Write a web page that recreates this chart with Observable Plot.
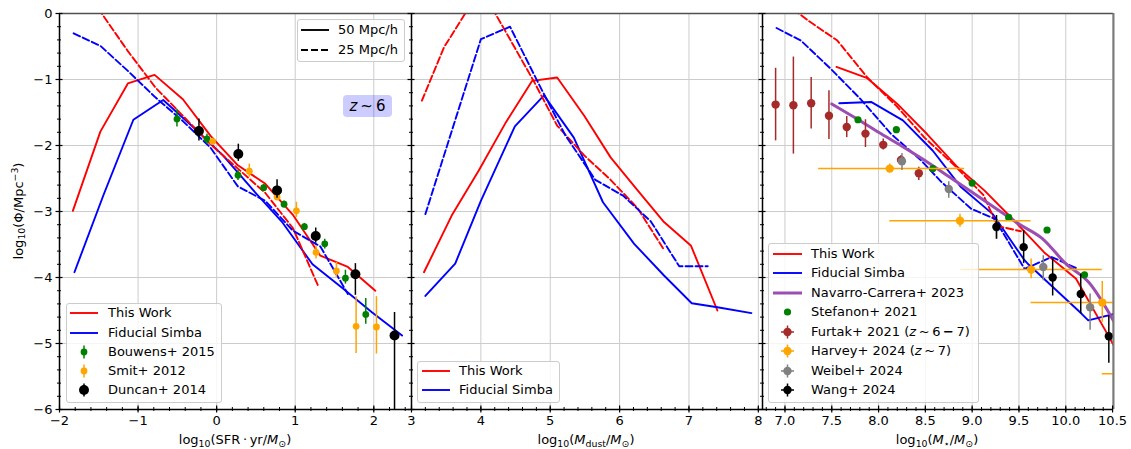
<!DOCTYPE html>
<html><head><meta charset="utf-8">
<script src="https://cdn.jsdelivr.net/npm/d3@7"></script>
<script src="https://cdn.jsdelivr.net/npm/@observablehq/plot@0.6"></script>
<style>
body{margin:0;background:#fff;font-family:"DejaVu Sans",sans-serif;color:#000;}
#wrap{position:relative;width:1131px;height:449px;overflow:hidden;background:#fff;}
.panel{position:absolute;top:0;}
.xl{position:absolute;top:431px;height:18px;line-height:18px;font-size:13px;white-space:nowrap;transform:translateX(-50%);}
.yl{position:absolute;font-size:13px;white-space:nowrap;transform:translate(-50%,-50%) rotate(-90deg);}
sub{font-size:72%;vertical-align:-0.3em;line-height:0;}
sup{font-size:72%;vertical-align:0.5em;line-height:0;}
.leg{position:absolute;background:rgba(255,255,255,0.8);border:1px solid #cccccc;border-radius:3px;box-sizing:border-box;}
.lt{position:absolute;font-size:13px;height:16px;line-height:16px;white-space:nowrap;}
.zbox{position:absolute;background:rgba(0,0,255,0.2);border-radius:4px;font-size:15px;text-align:center;}
</style>
</head><body>
<div id="wrap"></div>
<script>
// ================= DATA =================
// ---- Panel 1: SFR function ----
const sfrThisWorkX = [-1.83,-1.48,-1.13,-0.79,-0.43,-0.08,0.27,0.62,0.97,1.32,1.67,2.02];
const sfrThisWorkY = [-2.99,-1.79,-1.06,-0.93,-1.30,-1.85,-2.30,-2.58,-3.05,-3.67,-3.84,-4.20];
const sfrSimbaX = [-1.81,-1.44,-1.06,-0.68,-0.30,0.08,0.46,0.84,1.22,1.60,1.98,2.36];
const sfrSimbaY = [-3.92,-2.75,-1.61,-1.31,-1.72,-2.15,-2.67,-3.17,-3.80,-4.16,-4.53,-4.88];
const sfrThisWork25X = [-1.83,-1.48,-1.13,-0.78,-0.43,-0.08,0.27,0.62,0.97,1.30];
const sfrThisWork25Y = [0.55,0.03,-0.57,-1.12,-1.55,-1.98,-2.35,-2.72,-3.25,-4.15];
const sfrSimba25X = [-1.82,-1.48,-1.13,-0.78,-0.43,-0.08,0.27,0.62,0.97,1.32,1.67];
const sfrSimba25Y = [-0.30,-0.49,-0.87,-1.27,-1.63,-2.03,-2.62,-2.84,-3.29,-3.53,-4.25];

const bouwensX  = [-0.505,-0.123,0.272,0.599,0.858,1.117,1.376,1.639,1.898];
const bouwensY  = [-1.60,-1.90,-2.45,-2.64,-2.89,-3.23,-3.49,-4.01,-4.56];
const bouwensHi = [-1.45,-1.83,-2.38,-2.59,-2.84,-3.18,-3.42,-3.89,-4.32];
const bouwensLo = [-1.72,-1.98,-2.53,-2.69,-2.94,-3.28,-3.57,-4.10,-4.71];

const smitX  = [-0.051,0.416,0.769,1.015,1.265,1.524,1.775,2.034];
const smitY  = [-1.94,-2.39,-2.78,-2.99,-3.62,-3.90,-4.74,-4.75];
const smitHi = [-1.89,-2.28,-2.71,-2.86,-3.52,-3.77,-4.29,-4.29];
const smitLo = [-1.99,-2.48,-2.83,-3.09,-3.72,-4.00,-5.15,-5.16];

const duncanX  = [-0.225,0.276,0.769,1.261,1.766,2.264];
const duncanY  = [-1.78,-2.13,-2.68,-3.37,-3.95,-4.88];
const duncanHi = [-1.60,-1.98,-2.52,-3.25,-3.79,-4.53];
const duncanLo = [-1.93,-2.24,-2.80,-3.48,-4.27,-6.50];

// ---- Panel 2: dust mass function ----
const dustThisWorkX = [3.18,3.59,3.97,4.36,4.74,5.10,5.49,5.87,6.26,6.64,7.03,7.41];
const dustThisWorkY = [-3.92,-3.04,-2.38,-1.65,-1.02,-0.97,-1.55,-2.18,-2.68,-3.16,-3.52,-4.50];
const dustSimbaX = [3.20,3.63,4.00,4.49,4.91,5.34,5.76,6.21,6.64,7.04,7.41,7.90];
const dustSimbaY = [-4.28,-3.79,-2.84,-1.71,-1.24,-1.88,-2.86,-3.49,-3.97,-4.39,-4.45,-4.54];
const dustThisWork25X = [3.15,3.47,4.00,4.36,4.77,5.10,5.49,5.87,6.26,6.64];
const dustThisWork25Y = [-1.32,-0.51,0.38,-0.28,-1.04,-1.70,-2.15,-2.52,-2.95,-3.58];
const dustSimba25X = [3.20,4.00,4.42,4.86,5.22,5.65,6.05,6.45,6.86,7.27];
const dustSimba25Y = [-3.04,-0.39,-0.20,-1.12,-1.85,-2.52,-2.76,-3.15,-3.83,-3.83];

// ---- Panel 3: stellar mass function ----
const smfThisWorkX = [7.55,7.88,8.20,8.52,8.83,9.13,9.45,9.77,10.11,10.43,10.58];
const smfThisWorkY = [-0.81,-0.98,-1.37,-1.83,-2.31,-2.68,-3.14,-3.62,-4.02,-4.82,-5.20];
const smfSimbaX = [7.58,7.92,8.26,8.58,8.88,9.22,9.55,9.60,10.17,10.24,10.55];
const smfSimbaY = [-1.36,-1.34,-1.62,-2.08,-2.63,-3.04,-3.72,-3.80,-4.55,-4.65,-4.54];
const smfThisWork25X = [6.92,7.24,7.56,7.88,8.19,8.49,8.81,9.12,9.27,9.52];
const smfThisWork25Y = [0.25,-0.10,-0.41,-0.97,-1.40,-1.88,-2.30,-2.75,-3.22,-3.30];
const smfSimba25X = [6.91,7.17,7.49,7.81,8.13,8.45,8.67,8.99,9.24,9.56,9.85,10.13];
const smfSimba25Y = [-0.22,-0.41,-0.84,-1.30,-1.82,-2.22,-2.55,-2.96,-3.11,-3.87,-3.69,-3.87];

const navarroX = [7.50,7.75,8.00,8.25,8.50,8.75,9.00,9.25,9.50,9.75,10.00,10.25,10.52];
const navarroY = [-1.37,-1.58,-1.80,-2.01,-2.23,-2.47,-2.71,-2.95,-3.19,-3.41,-3.79,-4.08,-4.68];

const stefanonX = [7.78,8.19,8.58,9.00,9.39,9.80,10.20];
const stefanonY = [-1.61,-1.76,-2.35,-2.57,-3.09,-3.28,-3.96];

const furtakX  = [6.90,7.09,7.28,7.47,7.66,7.86,8.05,8.24,8.43];
const furtakY  = [-1.38,-1.39,-1.36,-1.55,-1.72,-1.82,-1.99,-2.22,-2.42];
const furtakHi = [-0.83,-0.66,-0.97,-1.17,-1.56,-1.61,-1.90,-2.15,-2.33];
const furtakLo = [-1.93,-2.13,-1.75,-1.91,-1.88,-2.03,-2.07,-2.30,-2.53];

const harveyX   = [8.12,8.87,9.63,10.39,11.15];
const harveyY   = [-2.35,-3.14,-3.88,-4.38,-5.46];
const harveyXlo = [7.36,8.12,8.88,9.63,10.39];
const harveyXhi = [8.92,9.63,10.39,11.15,11.91];
const harveyHi  = [-2.28,-3.04,-3.72,-4.06,-5.30];
const harveyLo  = [-2.41,-3.24,-4.02,-4.68,-5.62];

const weibelX  = [8.25,8.75,9.26,9.76,10.26];
const weibelY  = [-2.24,-2.66,-3.24,-3.84,-4.45];
const weibelHi = [-2.12,-2.55,-3.12,-3.67,-4.25];
const weibelLo = [-2.38,-2.80,-3.42,-4.05,-4.80];

const wangX  = [9.26,9.55,9.86,10.16,10.46];
const wangY  = [-3.23,-3.54,-4.00,-4.25,-4.89];
const wangHi = [-3.06,-3.29,-3.72,-3.95,-4.58];
const wangLo = [-3.42,-3.79,-4.28,-4.55,-5.30];

// ---- ticks ----
const yTicks = [0,-1,-2,-3,-4,-5,-6];
const sfrTicks = [-2,-1,0,1,2];
const dustTicks = [3,4,5,6,7,8];
const smfTicks = [7.0,7.5,8.0,8.5,9.0,9.5,10.0,10.5];

// ---- legend labels ----
const legSfr = ["This Work","Fiducial Simba","Bouwens+ 2015","Smit+ 2012","Duncan+ 2014"];
const legBox = ["50 Mpc/h","25 Mpc/h"];
const legDust = ["This Work","Fiducial Simba"];
const legSmf = ["This Work","Fiducial Simba","Navarro-Carrera+ 2023","Stefanon+ 2021",
  "Furtak+ 2021 (<i>z</i>\u2009~\u20096\u2009<b>\u2212</b>\u20097)","Harvey+ 2024 (<i>z</i>\u2009~\u20097)","Weibel+ 2024","Wang+ 2024"];

// ================= HELPERS =================
const RED = "#ff0000", BLUE = "#0000ff", GREEN = "#008000", ORANGE = "#ffa500",
      BROWN = "#a52a2a", GRAY = "#808080", PURPLE = "#9c4db2";
const DASH = "7,3";
const LW = 1.9;
const pts = (xs, ys) => xs.map((x, i) => ({x, y: ys[i]}));
const errs = (xs, ys, hi, lo) => xs.map((x, i) => ({x, y: ys[i], hi: hi[i], lo: lo[i]}));
const rng = (a, b, s) => d3.range(Math.round((b - a) / s) + 1).map(i => +(a + i * s).toFixed(4));
const yMinor = rng(-6, 0, 0.2);

function line(xs, ys, color, dashed) {
  return Plot.line(pts(xs, ys), {x: "x", y: "y", stroke: color, strokeWidth: LW,
    strokeDasharray: dashed ? DASH : null, clip: true});
}
function errbars(xs, ys, hi, lo, color, r) {
  const d = errs(xs, ys, hi, lo);
  return [
    Plot.ruleX(d, {x: "x", y1: "lo", y2: "hi", stroke: color, strokeWidth: 1.5, clip: true}),
    Plot.dot(d, {x: "x", y: "y", r, fill: color, stroke: "none", clip: true})
  ];
}

function panel({width, ml, mr, xdomain, xticks, xminor, xfmt, ylabels, marks, right}) {
  return Plot.plot({
    width, height: 449, marginTop: 13, marginBottom: 40, marginLeft: ml, marginRight: mr,
    x: {domain: xdomain, label: null},
    y: {domain: [-6, 0], label: null},
    style: {fontFamily: "'DejaVu Sans', sans-serif", fontSize: "13px", background: "transparent", overflow: "visible", color: "black"},
    marks: [
      Plot.gridX(xticks, {stroke: "#cccccc", strokeOpacity: 1, strokeWidth: 1}),
      Plot.gridY(yTicks, {stroke: "#cccccc", strokeOpacity: 1, strokeWidth: 1}),
      ...marks,
      Plot.ruleY([-6], {stroke: "black", strokeWidth: 1.5}),
      Plot.ruleY([0], {stroke: "#505050", strokeWidth: 1.5}),
      Plot.ruleX([xdomain[0]], {stroke: "black", strokeWidth: 1.5}),
      right ? Plot.ruleX([xdomain[1]], {stroke: "#7a7a7a", strokeWidth: 2}) : null,
      Plot.axisX(xticks, {tickSize: 7, dy: -3.5, fill: "none", strokeWidth: 1.2}),
      Plot.axisX(xminor, {tickSize: 4, dy: -2, fill: "none", strokeWidth: 1}),
      Plot.axisX(xticks, {tickSize: 0, tickPadding: 6, tickFormat: xfmt}),
      Plot.axisY(yTicks, {tickSize: 7, dx: 3.5, fill: "none", strokeWidth: 1.2}),
      Plot.axisY(yMinor, {tickSize: 4, dx: 2, fill: "none", strokeWidth: 1}),
      ylabels ? Plot.axisY(yTicks, {tickSize: 0, tickPadding: 7, tickFormat: d3.format("d")}) : null
    ]
  });
}

// ================= BUILD =================
const wrap = document.getElementById("wrap");
function place(el, left) {
  const d = document.createElement("div");
  d.className = "panel"; d.style.left = left + "px"; d.appendChild(el); wrap.appendChild(d);
}

const p1 = panel({
  width: 411, ml: 59, mr: 0, xdomain: [-2, 2.48], xticks: sfrTicks, xminor: rng(-2, 2.4, 0.2),
  xfmt: d3.format("d"), ylabels: true,
  marks: [
    line(sfrThisWorkX, sfrThisWorkY, RED, false),
    line(sfrSimbaX, sfrSimbaY, BLUE, false),
    line(sfrThisWork25X, sfrThisWork25Y, RED, true),
    line(sfrSimba25X, sfrSimba25Y, BLUE, true),
    ...errbars(bouwensX, bouwensY, bouwensHi, bouwensLo, GREEN, 3.4),
    ...errbars(smitX, smitY, smitHi, smitLo, ORANGE, 3.4),
    ...errbars(duncanX, duncanY, duncanHi, duncanLo, "black", 5)
  ]
});
const p2 = panel({
  width: 351, ml: 0, mr: 0, xdomain: [3, 8.06], xticks: dustTicks, xminor: rng(3, 8, 0.2),
  xfmt: d3.format("d"), ylabels: false,
  marks: [
    line(dustThisWorkX, dustThisWorkY, RED, false),
    line(dustSimbaX, dustSimbaY, BLUE, false),
    line(dustThisWork25X, dustThisWork25Y, RED, true),
    line(dustSimba25X, dustSimba25Y, BLUE, true)
  ]
});
const harveyD = harveyX.map((x, i) => ({x, y: harveyY[i], xlo: harveyXlo[i], xhi: harveyXhi[i], hi: harveyHi[i], lo: harveyLo[i]}));
const p3 = panel({
  width: 369, ml: 0, mr: 18, xdomain: [6.76, 10.51], xticks: smfTicks, xminor: rng(6.8, 10.5, 0.1),
  xfmt: d3.format(".1f"), ylabels: false, right: true,
  marks: [
    line(smfThisWorkX, smfThisWorkY, RED, false),
    line(smfSimbaX, smfSimbaY, BLUE, false),
    line(smfThisWork25X, smfThisWork25Y, RED, true),
    line(smfSimba25X, smfSimba25Y, BLUE, true),
    Plot.line(pts(navarroX, navarroY), {x: "x", y: "y", stroke: PURPLE, strokeWidth: 3, curve: "monotone-x", clip: true}),
    Plot.dot(pts(stefanonX, stefanonY), {x: "x", y: "y", r: 3.6, fill: GREEN, clip: true}),
    ...errbars(furtakX, furtakY, furtakHi, furtakLo, BROWN, 4.2),
    Plot.ruleY(harveyD, {y: "y", x1: "xlo", x2: "xhi", stroke: ORANGE, strokeWidth: 1.5, clip: true}),
    ...errbars(harveyX, harveyY, harveyHi, harveyLo, ORANGE, 4.2),
    ...errbars(weibelX, weibelY, weibelHi, weibelLo, GRAY, 4.2),
    ...errbars(wangX, wangY, wangHi, wangLo, "black", 4.2)
  ]
});
place(p1, 0); place(p2, 411); place(p3, 762);

// ---- axis labels ----
function addDiv(cls, html, style) {
  const d = document.createElement("div"); d.className = cls; d.innerHTML = html;
  Object.assign(d.style, style); wrap.appendChild(d); return d;
}
addDiv("xl", "log<sub>10</sub>(SFR\u2009\u00b7\u2009yr/<i>M</i><sub>\u2299</sub>)", {left: "235px"});
addDiv("xl", "log<sub>10</sub>(<i>M</i><sub>dust</sub>/<i>M</i><sub>\u2299</sub>)", {left: "586px"});
addDiv("xl", "log<sub>10</sub>(<i>M</i><sub>\u22c6</sub>/<i>M</i><sub>\u2299</sub>)", {left: "937px"});
addDiv("yl", "log<sub>10</sub>(\u03a6/Mpc<sup>\u22123</sup>)", {left: "18px", top: "211px"});

// ---- z~6 box ----
addDiv("zbox", "<i>z</i>\u2009~\u20096", {left: "343px", top: "95px", width: "49px", height: "22px", lineHeight: "22px"});

// ---- legends ----
function legend(box, rows, o) {
  addDiv("leg", "", {left: box[0] + "px", top: box[1] + "px", width: (box[2] - box[0]) + "px", height: (box[3] - box[1]) + "px"});
  rows.forEach((r, i) => {
    const y = o.y0 + i * o.pitch;
    const w = o.sx1 - o.sx0 + 4, cx = w / 2;
    const s = d3.create("svg").attr("width", w).attr("height", 18)
      .style("position", "absolute").style("left", (o.sx0 - 2) + "px").style("top", (y - 9) + "px").style("overflow", "visible");
    if (r.kind === "line") {
      s.append("line").attr("x1", 2).attr("x2", w - 2).attr("y1", 9).attr("y2", 9)
        .attr("stroke", r.color).attr("stroke-width", r.lw || LW).attr("stroke-dasharray", r.dash || null);
    } else {
      if (r.kind === "errv" || r.kind === "errxy")
        s.append("line").attr("x1", cx).attr("x2", cx).attr("y1", 9 - 6.5).attr("y2", 9 + 6.5).attr("stroke", r.color).attr("stroke-width", 1.5);
      if (r.kind === "errxy")
        s.append("line").attr("x1", cx - 6.5).attr("x2", cx + 6.5).attr("y1", 9).attr("y2", 9).attr("stroke", r.color).attr("stroke-width", 1.5);
      s.append("circle").attr("cx", cx).attr("cy", 9).attr("r", r.r).attr("fill", r.color);
    }
    wrap.appendChild(s.node());
    addDiv("lt", r.label, {left: o.tx + "px", top: (y - 8) + "px"});
  });
}
legend([66, 303, 222, 403], [
  {label: legSfr[0], kind: "line", color: RED},
  {label: legSfr[1], kind: "line", color: BLUE},
  {label: legSfr[2], kind: "errv", color: GREEN, r: 3.4},
  {label: legSfr[3], kind: "errv", color: ORANGE, r: 3.4},
  {label: legSfr[4], kind: "errv", color: "black", r: 5}
], {y0: 313.3, pitch: 19.2, sx0: 70, sx1: 98, tx: 108});

legend([297, 19, 405, 62], [
  {label: legBox[0], kind: "line", color: "black"},
  {label: legBox[1], kind: "line", color: "black", dash: DASH}
], {y0: 30.3, pitch: 19.4, sx0: 301, sx1: 329, tx: 338});

legend([417, 361, 560, 403], [
  {label: legDust[0], kind: "line", color: RED},
  {label: legDust[1], kind: "line", color: BLUE}
], {y0: 371, pitch: 19.4, sx0: 422, sx1: 450, tx: 459});

legend([768, 243, 979, 403], [
  {label: legSmf[0], kind: "line", color: RED},
  {label: legSmf[1], kind: "line", color: BLUE},
  {label: legSmf[2], kind: "line", color: PURPLE, lw: 3},
  {label: legSmf[3], kind: "dot", color: GREEN, r: 3.6},
  {label: legSmf[4], kind: "errxy", color: BROWN, r: 4.2},
  {label: legSmf[5], kind: "errxy", color: ORANGE, r: 4.2},
  {label: legSmf[6], kind: "errxy", color: GRAY, r: 4.2},
  {label: legSmf[7], kind: "errxy", color: "black", r: 4.2}
], {y0: 253.5, pitch: 19.5, sx0: 773, sx1: 802, tx: 811});
</script>
</body></html>
